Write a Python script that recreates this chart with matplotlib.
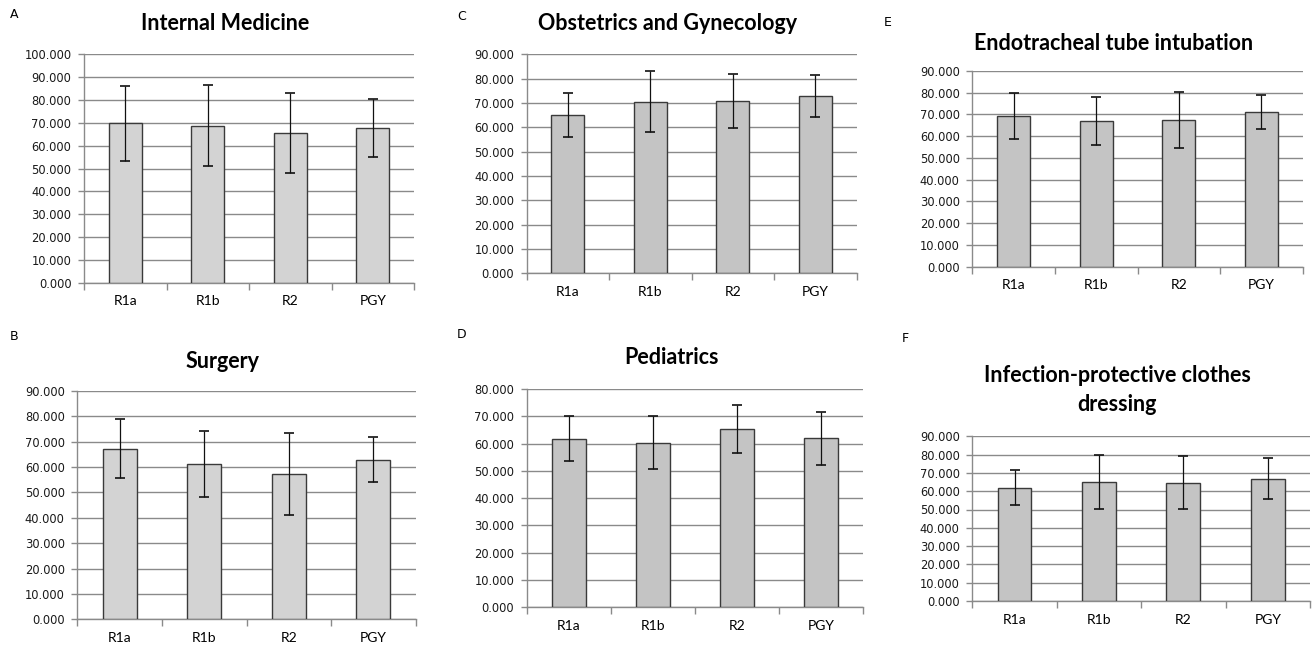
import matplotlib
matplotlib.use("Agg")
import matplotlib.pyplot as plt
import numpy as np

categories = ["R1a", "R1b", "R2", "PGY"]

im_mean = [69.8, 68.8, 65.4, 67.7]
im_sd = [16.5, 17.7, 17.5, 12.7]
og_mean = [65.2, 70.5, 70.8, 72.9]
og_sd = [9.1, 12.6, 10.9, 8.7]
et_mean = [69.3, 66.9, 67.5, 71.1]
et_sd = [10.5, 11.0, 13.0, 8.0]
su_mean = [67.2, 61.2, 57.2, 62.9]
su_sd = [11.6, 13.0, 16.1, 8.8]
pe_mean = [61.8, 60.3, 65.3, 62.0]
pe_sd = [8.3, 9.7, 8.9, 9.7]
ip_mean = [61.8, 64.9, 64.7, 66.9]
ip_sd = [9.6, 14.7, 14.3, 11.1]

W, H = 1312, 650
fig = plt.figure(figsize=(W / 100, H / 100), dpi=100)

# (letter, title, mean, sd, ymax, axes px box (left,right,top,bottom), title y px, letter pos, bar color)
panels = [
    ("A", "Internal Medicine", im_mean, im_sd, 100, (84, 414, 54.3, 282.7), 24, (10, 15), "#d3d3d3"),
    ("C", "Obstetrics and Gynecology", og_mean, og_sd, 90, (526.7, 856.7, 54.3, 273.3), 24, (457, 17), "#c4c4c4"),
    ("E", "Endotracheal tube intubation", et_mean, et_sd, 90, (972.3, 1302.7, 71, 266.7), 43, (884, 23), "#c4c4c4"),
    ("B", "Surgery", su_mean, su_sd, 90, (77.3, 415.7, 391, 619.3), 361, (10, 337), "#d3d3d3"),
    ("D", "Pediatrics", pe_mean, pe_sd, 80, (526.7, 863.3, 389, 607.3), 358, (457, 335), "#c4c4c4"),
    ("F", "Infection-protective clothes\ndressing", ip_mean, ip_sd, 90, (972.3, 1310, 436.3, 601), 390, (902, 338), "#c4c4c4"),
]

for letter, title, mean, sd, ymax, box, ty, lpos, color in panels:
    l, r, t, b = box
    ax = fig.add_axes([l / W, 1 - b / H, (r - l) / W, (b - t) / H])
    x = np.arange(len(categories))
    ax.bar(x, mean, width=0.40, color=color, edgecolor="#3a3a3a", linewidth=1.0, zorder=3)
    ax.errorbar(x, mean, yerr=sd, fmt="none", ecolor="#111111", elinewidth=0.9,
                capsize=3.5, capthick=1.2, zorder=4)
    ax.set_xlim(-0.5, len(categories) - 0.5)
    ax.set_ylim(0, ymax)
    ax.set_yticks(np.arange(0, ymax + 1, 10))
    ax.set_yticklabels([f"{v:.3f}" for v in np.arange(0, ymax + 1, 10)],
                       fontsize=8.3, family="DejaVu Sans", color="#1a1a1a")
    ax.yaxis.grid(True, color="#8a8a8a", linewidth=1.0, zorder=0)
    ax.set_axisbelow(True)
    ax.set_xticks(x)
    ax.set_xticklabels(categories, fontsize=10, family="Lato")
    ax.tick_params(axis="x", length=0, pad=9)
    ax.set_xticks(np.arange(-0.5, len(categories)), minor=True)
    ax.tick_params(axis="x", which="minor", length=5, color="#8a8a8a", width=1.0)
    ax.tick_params(axis="y", length=4, color="#8a8a8a", width=1.0, pad=5)
    for s in ["top", "right"]:
        ax.spines[s].set_visible(False)
    for s in ["left", "bottom"]:
        ax.spines[s].set_color("#8a8a8a")
        ax.spines[s].set_linewidth(1.0)
    cx = (l + r) / 2 - 24
    fig.text(cx / W, 1 - ty / H, title, ha="center", va="center", fontsize=15.5,
             fontweight="bold", family="Lato", linespacing=1.45)
    fig.text(lpos[0] / W, 1 - lpos[1] / H, letter, ha="left", va="center",
             fontsize=9, family="DejaVu Sans")

fig.savefig("out.png", dpi=100, facecolor="white")
